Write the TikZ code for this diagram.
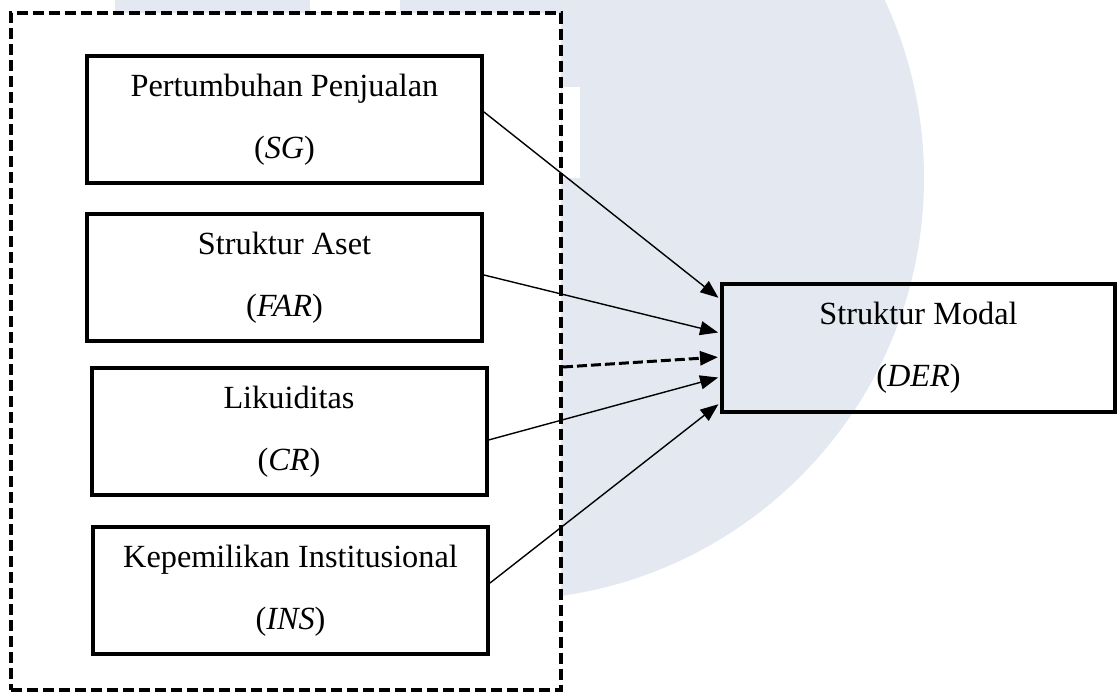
\documentclass[tikz,border=0pt]{standalone}
\usepackage{fontspec}
\setmainfont{Liberation Serif}
\usetikzlibrary{arrows.meta,calc}
\definecolor{wm}{RGB}{228,232,240}
\begin{document}
\begin{tikzpicture}[x=1pt,y=-1pt,
  box/.style={draw,line width=4pt,minimum width=395pt,minimum height=127pt,inner sep=0pt,align=center,font=\fontsize{32.3}{62}\selectfont},
  dashframe/.style={draw,line width=4pt,dash pattern=on 11pt off 5pt,fill=white,inner sep=0pt},
  link/.style={line width=1.4pt,shorten >=2pt,-{Triangle[length=18pt,width=14pt]}},
  dlink/.style={line width=3pt,dash pattern=on 10pt off 4pt,shorten >=2pt,-{Triangle[length=18pt,width=14pt]}}]
\useasboundingbox (0,0) rectangle (1117,693);
\begin{scope}
\clip (0,0) rectangle (1117,693);
\fill[wm] (502,178) circle (422);
\fill[wm] (115,0) rectangle (310,12);
\fill[white] (310,0) rectangle (400,12);
\fill[white] (562,87) rectangle (580,178);
\end{scope}
\node[dashframe, minimum width=550pt, minimum height=677pt] (frame) at (286,351.5) {};
\node[box] (sg) at (284.5,119.5) {Pertumbuhan Penjualan\\(\textit{SG})};
\node[box] (far) at (284.5,277.5) {Struktur Aset\\(\textit{FAR})};
\node[box] (cr) at (289,431.5) {Likuiditas\\(\textit{CR})};
\node[box] (ins) at (290.5,590.5) {Kepemilikan Institusional\\(\textit{INS})};
\node[box, minimum width=393pt, minimum height=128pt] (der) at (918.5,348) {Struktur Modal\\(\textit{DER})};
\draw[link] ([yshift=7.5pt]sg.east) -- ([yshift=49pt]der.west);
\draw[link] ([yshift=2.5pt]far.east) -- ([yshift=15pt]der.west);
\draw[dlink] ([yshift=-15.5pt]frame.east) -- ([yshift=-9pt]der.west);
\draw[link] ([yshift=-8.5pt]cr.east) -- ([yshift=-29pt]der.west);
\draw[link] ([yshift=7.5pt]ins.east) -- ([yshift=-55pt]der.west);
\end{tikzpicture}
\end{document}
